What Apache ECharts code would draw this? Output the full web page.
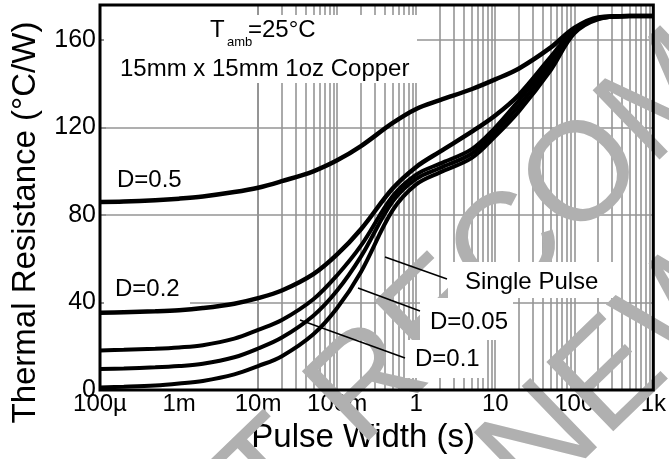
<!DOCTYPE html>
<html><head><meta charset="utf-8">
<script src="https://cdn.jsdelivr.net/npm/echarts@6/dist/echarts.min.js"></script>
<style>html,body{margin:0;padding:0;background:#fff}#c{width:669px;height:459px}</style>
</head><body><div id="c"></div>
<script>
// ---- data ----
const tickLabels = ['100µ', '1m', '10m', '100m', '1', '10', '100', '1k'];
const yTicks = [0, 40, 80, 120, 160];
const pulseWidth = [1e-4, 2e-4, 5e-4, 1e-3, 2e-3, 5e-3, 1e-2, 2e-2, 5e-2, 0.1, 0.2, 0.5, 1, 2, 5, 10, 20, 50, 100, 200, 500, 1000];
const rthD05 = [86, 86.2, 86.8, 87.5, 88.5, 90.5, 92.5, 95.5, 100, 105, 111.5, 122, 128.5, 132.5, 137.5, 142, 147, 156.5, 165.5, 170.3, 171, 171];
const rthD02 = [35.3, 35.6, 36, 36.5, 37.5, 39.5, 42, 45.5, 53, 62, 73.5, 92, 102, 109, 118, 125.5, 135, 152, 164.5, 170, 171, 171];
const rthD01 = [18.1, 18.4, 18.9, 19.5, 20.5, 23.5, 27.5, 32, 41.5, 52.5, 66, 88.5, 98.5, 103.5, 110, 120, 132.5, 150, 164, 170, 171, 171];
const rthD005 = [9.6, 9.9, 10.4, 11, 12, 15, 19, 24, 34, 45.5, 61, 86, 96.5, 101.5, 108, 118, 130, 148, 163.5, 169.8, 171, 171];
const rthSingle = [1.2, 1.5, 2.1, 3.0, 4.2, 7.2, 11, 15.5, 25.5, 37.5, 54, 82, 94, 99.5, 106, 116, 127.5, 146, 163, 169.5, 171, 171];
const seriesNames = ['D=0.5', 'D=0.2', 'D=0.1', 'D=0.05', 'Single Pulse'];

// gridline positions (log decades with 1..9 subdivisions)
const gridX = [];
for (let e = -4; e <= 2; e++) for (let k = 1; k <= 9; k++) gridX.push(+(k * Math.pow(10, e)).toPrecision(3));

const FONT = "'Liberation Sans', Arial, Helvetica, sans-serif";
const chart = echarts.init(document.getElementById('c'), null, { renderer: 'canvas' });
const pairs = arr => pulseWidth.map((t, i) => [t, arr[i]]);
const curves = [rthD05, rthD02, rthD01, rthD005, rthSingle];

const series = curves.map((arr, i) => ({
  name: seriesNames[i], type: 'line', data: pairs(arr), smooth: 0.35, symbol: 'none',
  lineStyle: { color: '#000', width: i < 2 ? 4.5 : 4 }, z: 10, animation: false, silent: true
}));
series.push({
  type: 'line', data: [], symbol: 'none', silent: true, animation: false,
  markLine: {
    silent: true, symbol: 'none', z: 1, animation: false, label: { show: false },
    lineStyle: { color: '#959595', width: 1.6, type: 'solid' },
    emphasis: { disabled: true },
    data: gridX.map(v => ({ xAxis: v }))
  }
});

const wm = { fill: '#b0b0b0', fontSize: 140, fontFamily: FONT, align: 'left', verticalAlign: 'middle' };
const rot = 44 * Math.PI / 180;
const txt = (t, x, y, size) => ({ type: 'text', x, y, z: 7, silent: true,
  style: { text: t, fill: '#000', fontSize: size || 24, fontFamily: FONT, align: 'left', verticalAlign: 'middle' } });
const box = (x, y, w, h) => ({ type: 'rect', z: 6, silent: true, shape: { x, y, width: w, height: h }, style: { fill: '#fff' } });
const lead = (x1, y1, x2, y2) => ({ type: 'line', z: 7, silent: true, shape: { x1, y1, x2, y2 }, style: { stroke: '#000', lineWidth: 1.5 } });

chart.setOption({
  animation: false,
  grid: { left: 100, right: 14, top: 5, bottom: 59, show: true, borderColor: '#000', borderWidth: 3, z: 9, backgroundColor: 'transparent' },
  xAxis: {
    type: 'log', logBase: 10, min: 1e-4, max: 1e3, splitNumber: 7,
    axisLine: { show: false }, axisTick: { show: false }, splitLine: { show: false },
    axisLabel: { color: '#000', fontSize: 24, fontFamily: FONT, margin: 2,
      formatter: v => tickLabels[Math.round(Math.log10(v)) + 4] || '' },
    name: 'Pulse Width (s)', nameLocation: 'middle', nameGap: 17,
    nameTextStyle: { color: '#000', fontSize: 33, fontFamily: FONT, padding: [0, 27, 0, 0] }
  },
  yAxis: {
    type: 'value', min: 0, max: 176, interval: 40,
    axisLine: { show: false },
    axisTick: { show: true, inside: true, length: 6, lineStyle: { color: '#888', width: 1.5 } },
    splitLine: { show: true, lineStyle: { color: '#959595', width: 1.5 } },
    axisLabel: { color: '#000', fontSize: 25, fontFamily: FONT, margin: 4, showMaxLabel: false,
      formatter: v => (yTicks.indexOf(v) >= 0 ? String(v) : '') },
    name: 'Thermal Resistance (°C/W)', nameLocation: 'middle', nameGap: 58,
    nameTextStyle: { color: '#000', fontSize: 33, fontFamily: FONT, padding: [0, 50, 0, 0] }
  },
  graphic: [
    { type: 'text', x: 93, y: 653, rotation: rot, z: 4, silent: true, style: Object.assign({ text: 'NOT RECOMMENDED' }, wm) },
    { type: 'text', x: 265, y: 714, rotation: rot, z: 4, silent: true, style: Object.assign({ text: 'FOR NEW DESIGN' }, wm) },
    box(104, 15, 313, 68),
    txt('T', 210, 30), txt('amb', 227, 42, 13), txt('=25°C', 248, 30),
    txt('15mm x 15mm 1oz Copper', 120, 69),
    box(104, 152, 86, 45), txt('D=0.5', 117, 180),
    box(104, 270, 86, 38), txt('D=0.2', 115, 289),
    box(448, 262, 165, 36), txt('Single Pulse', 465, 282),
    box(420, 298, 93, 42), txt('D=0.05', 430, 322),
    box(405, 340, 82, 38), txt('D=0.1', 415, 359),
    lead(447, 279, 385, 257), lead(420, 311, 358, 288), lead(405, 358, 300, 320)
  ],
  series
});
</script></body></html>
